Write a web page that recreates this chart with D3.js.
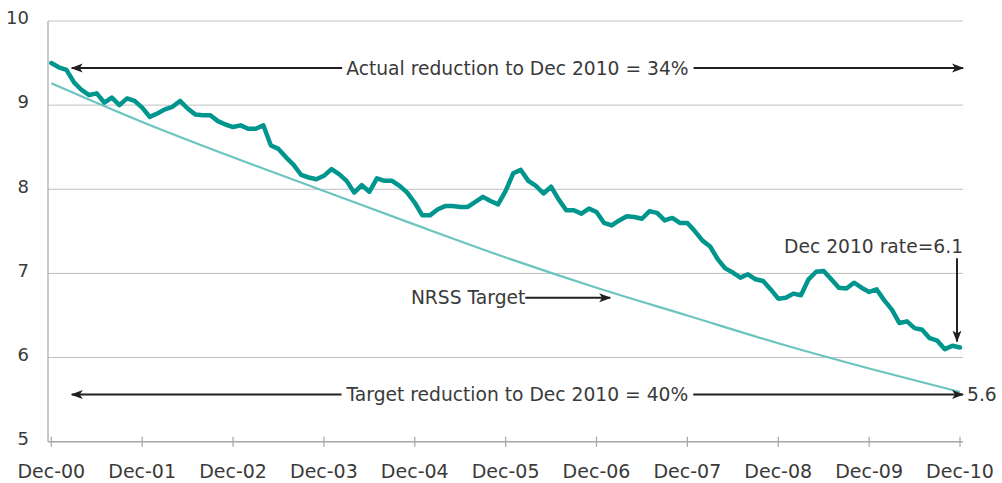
<!DOCTYPE html>
<html>
<head>
<meta charset="utf-8">
<script src="https://cdn.jsdelivr.net/npm/d3@7"></script>
<style>
  body { margin: 0; background: #fff; }
  svg { display: block; font-family: "DejaVu Sans", sans-serif; }
</style>
</head>
<body>
<div id="chart"></div>
<script>
// monthly rate, Dec-00 .. Dec-10
const actualRate = [
  9.50, 9.45, 9.42, 9.27, 9.18, 9.12, 9.14, 9.03, 9.09, 9.00, 9.08, 9.05,
  8.97, 8.86, 8.90, 8.95, 8.98, 9.05, 8.96, 8.89, 8.88, 8.88, 8.81, 8.77,
  8.74, 8.76, 8.72, 8.72, 8.76, 8.52, 8.48, 8.38, 8.29, 8.17, 8.14, 8.12,
  8.16, 8.24, 8.18, 8.10, 7.96, 8.05, 7.97, 8.13, 8.10, 8.10, 8.04, 7.96,
  7.84, 7.69, 7.69, 7.76, 7.80, 7.80, 7.79, 7.79, 7.85, 7.91, 7.86, 7.82,
  7.98, 8.19, 8.23, 8.10, 8.04, 7.95, 8.03, 7.88, 7.75, 7.75, 7.71, 7.77,
  7.73, 7.60, 7.57, 7.63, 7.68, 7.67, 7.65, 7.74, 7.72, 7.63, 7.66, 7.60,
  7.60, 7.50, 7.39, 7.32, 7.17, 7.06, 7.01, 6.95, 6.99, 6.93, 6.91, 6.81,
  6.70, 6.71, 6.76, 6.74, 6.93, 7.02, 7.03, 6.93, 6.83, 6.82, 6.89, 6.83,
  6.78, 6.81, 6.68, 6.57, 6.41, 6.43, 6.35, 6.33, 6.23, 6.20, 6.10, 6.14,
  6.12
];

// NRSS target at each December
const targetRate = [9.26, 8.80, 8.38, 7.98, 7.58, 7.19, 6.83, 6.50, 6.17, 5.87, 5.59];

const xTickLabels = ["Dec-00", "Dec-01", "Dec-02", "Dec-03", "Dec-04", "Dec-05",
                     "Dec-06", "Dec-07", "Dec-08", "Dec-09", "Dec-10"];
const yTicks = [5, 6, 7, 8, 9, 10];

const width = 1002, height = 483;
const plotLeft = 48, plotRight = 963;
const textColor = "#3a3a3a";
const noteSize = 18.7;

const x = d3.scaleLinear().domain([0, 120]).range([51.3, 960]);
const y = d3.scaleLinear().domain([5, 10]).range([441.7, 21]);

const svg = d3.select("#chart").append("svg")
    .attr("width", width)
    .attr("height", height);

const defs = svg.append("defs");
defs.append("marker")
    .attr("id", "arrow")
    .attr("viewBox", "0 0 12 10")
    .attr("refX", 11)
    .attr("refY", 5)
    .attr("markerUnits", "userSpaceOnUse")
    .attr("markerWidth", 12)
    .attr("markerHeight", 10)
    .attr("orient", "auto-start-reverse")
    .append("path")
    .attr("d", "M0,0.5 L12,5 L0,9.5 L3,5 Z")
    .attr("fill", "#231f20");

// gridlines
svg.append("g")
    .selectAll("line")
    .data(yTicks.filter(d => d > 5))
    .join("line")
    .attr("x1", plotLeft)
    .attr("x2", plotRight)
    .attr("y1", d => y(d))
    .attr("y2", d => y(d))
    .attr("stroke", "#bfbfbf")
    .attr("stroke-width", 1);

// y axis line
svg.append("line")
    .attr("x1", plotLeft).attr("x2", plotLeft)
    .attr("y1", y(10)).attr("y2", y(5))
    .attr("stroke", "#a6a6a6")
    .attr("stroke-width", 1.2);

// x axis line + ticks
svg.append("line")
    .attr("x1", plotLeft).attr("x2", plotRight)
    .attr("y1", y(5)).attr("y2", y(5))
    .attr("stroke", "#a6a6a6")
    .attr("stroke-width", 1.5);

const xTicks = xTickLabels.map((d, i) => i * 12);

svg.append("g")
    .selectAll("line")
    .data(xTicks)
    .join("line")
    .attr("x1", d => x(d)).attr("x2", d => x(d))
    .attr("y1", y(5) - 5).attr("y2", y(5) + 5)
    .attr("stroke", "#a6a6a6")
    .attr("stroke-width", 1.2);

svg.append("g")
    .selectAll("text")
    .data(xTickLabels)
    .join("text")
    .attr("x", (d, i) => x(xTicks[i]))
    .attr("y", 478)
    .attr("text-anchor", "middle")
    .attr("font-size", 19)
    .attr("fill", textColor)
    .text(d => d);

// y labels
svg.append("g")
    .selectAll("text")
    .data(yTicks)
    .join("text")
    .attr("x", 29)
    .attr("y", d => y(d) - 3)
    .attr("dy", "0.35em")
    .attr("text-anchor", "end")
    .attr("font-size", 18)
    .attr("fill", textColor)
    .text(d => d);

// target line
const targetLine = d3.line()
    .x((d, i) => x(i * 12))
    .y(d => y(d))
    .curve(d3.curveMonotoneX);

svg.append("path")
    .datum(targetRate)
    .attr("d", targetLine)
    .attr("fill", "none")
    .attr("stroke", "#6cc4bf")
    .attr("stroke-width", 2.2);

// actual line
const actualLine = d3.line()
    .x((d, i) => x(i))
    .y(d => y(d));

svg.append("path")
    .datum(actualRate)
    .attr("d", actualLine)
    .attr("fill", "none")
    .attr("stroke", "#00968e")
    .attr("stroke-width", 4.5)
    .attr("stroke-linejoin", "round")
    .attr("stroke-linecap", "round");

// annotations
function arrow(x1, y1, x2, y2) {
    svg.append("line")
        .attr("x1", x1).attr("y1", y1)
        .attr("x2", x2).attr("y2", y2)
        .attr("stroke", "#231f20")
        .attr("stroke-width", 2)
        .attr("marker-end", "url(#arrow)");
}

function spanLabel(label, yVal, leftM, rightM) {
    const yy = y(yVal);
    const xl = x(leftM), xr = x(rightM);
    const t = svg.append("text")
        .attr("x", (xl + xr) / 2)
        .attr("y", yy)
        .attr("dy", "0.35em")
        .attr("text-anchor", "middle")
        .attr("font-size", noteSize)
        .attr("fill", textColor)
        .text(label);
    const bb = t.node().getBBox();
    arrow(bb.x - 4, yy, xl, yy);
    arrow(bb.x + bb.width + 5, yy, xr, yy);
}

spanLabel("Actual reduction to Dec 2010 = 34%", 9.44, 2.7, 120.4);
spanLabel("Target reduction to Dec 2010 = 40%", 5.56, 2.7, 120.4);

svg.append("text")
    .attr("x", x(120.4) + 4)
    .attr("y", y(5.56))
    .attr("dy", "0.35em")
    .attr("font-size", noteSize)
    .attr("fill", textColor)
    .text("5.6");

// NRSS target label
svg.append("text")
    .attr("x", x(62.6))
    .attr("y", y(6.71))
    .attr("dy", "0.35em")
    .attr("text-anchor", "end")
    .attr("font-size", noteSize)
    .attr("fill", textColor)
    .text("NRSS Target");
arrow(x(62.6), y(6.71), x(73.8), y(6.71));

// Dec 2010 rate label
svg.append("text")
    .attr("x", x(120.4))
    .attr("y", y(7.32))
    .attr("dy", "0.35em")
    .attr("text-anchor", "end")
    .attr("font-size", noteSize)
    .attr("fill", textColor)
    .text("Dec 2010 rate=6.1");
arrow(x(119.6), y(7.18), x(119.6), y(6.19));
</script>
</body>
</html>
